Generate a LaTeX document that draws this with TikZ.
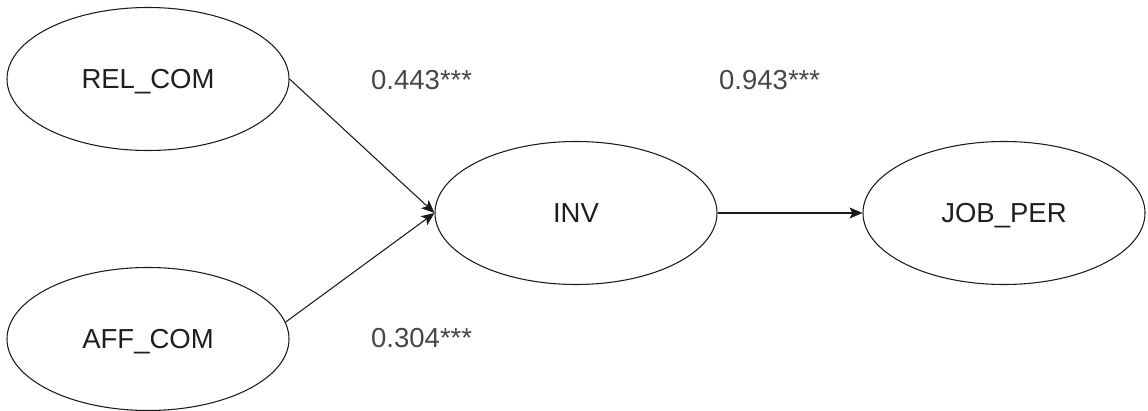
\documentclass[tikz,border=0pt]{standalone}
\usepackage{fontspec}
\setmainfont{Liberation Sans}
\usetikzlibrary{shapes.geometric,arrows.meta}
\begin{document}
\begin{tikzpicture}[x=1pt,y=-1pt,
  latent/.style={ellipse,draw=black!90,line width=1.05pt,minimum width=282pt,minimum height=143pt,inner sep=0pt,
    text depth=0pt,font=\fontsize{27.5}{33}\selectfont,text=black!88},
  coef/.style={anchor=west,inner sep=0pt,font=\fontsize{27.5}{33}\selectfont,text=black!72},
  path/.style={draw=black!90,line width=1.05pt,-{Stealth[length=13pt,width=11pt,inset=3pt]}}]
\useasboundingbox (0,0) rectangle (1148,411);
\node[latent] (rel) at (148,79) {REL\_COM};
\node[latent] (aff) at (148,339) {AFF\_COM};
\node[latent] (inv) at (576,213) {INV};
\node[latent] (job) at (1004,213) {JOB\_PER};
\node[coef] (c1) at (371,80) {0.443***};
\node[coef] (c2) at (719,80) {0.943***};
\node[coef] (c3) at (371,338) {0.304***};
\draw[path] (rel.east) -- (inv.west);
\draw[path] (aff.7.5) -- (inv.west);
\draw[path] (inv.east) -- (job.west);
\end{tikzpicture}
\end{document}
